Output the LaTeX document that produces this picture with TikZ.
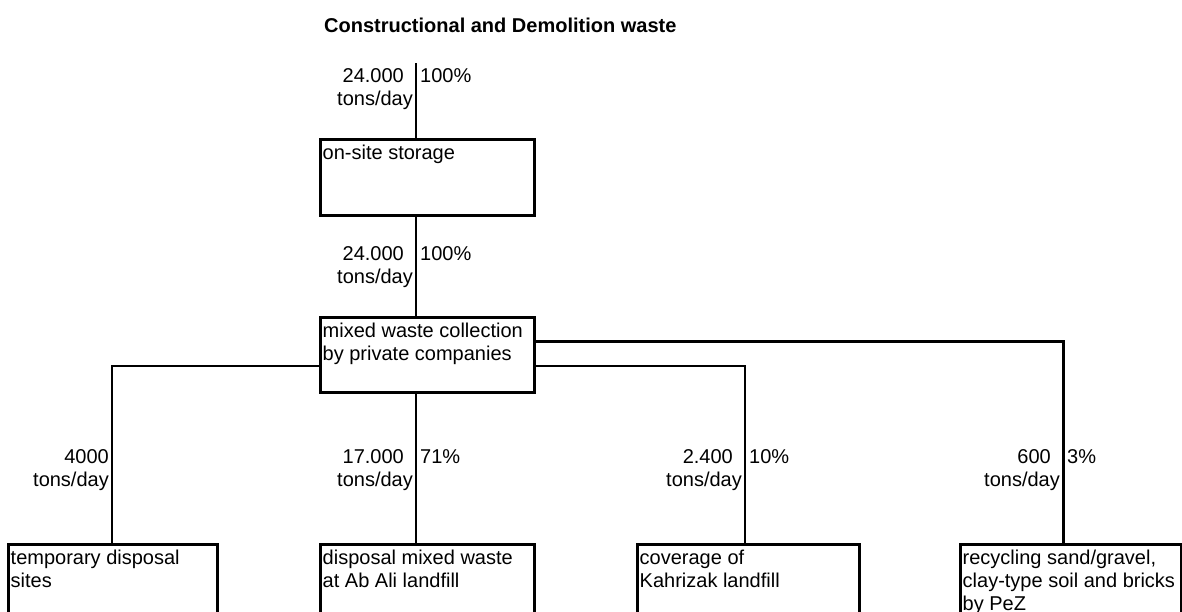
\documentclass[tikz,border=0pt]{standalone}
\usepackage{fontspec}
\setmainfont{Liberation Sans}
\begin{document}
\begin{tikzpicture}[x=1pt,y=-1pt,
  every node/.style={font=\fontsize{20}{23}\selectfont},
  box/.style={draw, line width=2.8pt, anchor=north west, inner sep=0pt},
  boxtext/.style={anchor=north west, inner sep=0pt, align=left},
  wire/.style={line width=2.3pt},
  qty/.style={anchor=north east, inner sep=0pt, align=right},
  pct/.style={anchor=north west, inner sep=0pt},
]
% page frame
\clip (0,0) rectangle (1182,611);
\fill[white] (0,0) rectangle (1182,611);

% heading
\node[anchor=base west, inner sep=0pt, font=\bfseries\fontsize{20}{23}\selectfont] (title) at (324,32) {Constructional and Demolition waste};

% process boxes
\node[box, minimum width=214pt, minimum height=76pt] (store) at (319,138) {};
\node[box, minimum width=214pt, minimum height=75pt] (mixed) at (319,316) {};
\node[box, minimum width=209pt, minimum height=120pt] (temp) at (7,543) {};
\node[box, minimum width=214pt, minimum height=120pt] (abali) at (319,543) {};
\node[box, minimum width=222pt, minimum height=120pt] (kahr) at (636,543) {};
\node[box, minimum width=221pt, minimum height=120pt] (recyc) at (959,543) {};

% box captions
\node[boxtext] (storeT) at ([xshift=3.5pt,yshift=-7pt]store.north west) {on-site storage};
\node[boxtext] (mixedT) at ([xshift=3.5pt,yshift=-7pt]mixed.north west) {mixed waste collection\\by private companies};
\node[boxtext] (tempT) at ([xshift=3.5pt,yshift=-7pt]temp.north west) {temporary disposal\\sites};
\node[boxtext] (abaliT) at ([xshift=3.5pt,yshift=-7pt]abali.north west) {disposal mixed waste\\at Ab Ali landfill};
\node[boxtext] (kahrT) at ([xshift=3.5pt,yshift=-7pt]kahr.north west) {coverage of\\Kahrizak landfill};
\node[boxtext] (recycT) at ([xshift=3.5pt,yshift=-7pt]recyc.north west) {recycling sand/gravel,\\clay-type soil and bricks\\by PeZ};

% flow lines
\coordinate (src) at (416,63);
\coordinate (jl) at (112,366);
\coordinate (jk) at (745,366);
\coordinate (jr) at (1063,341);
\draw[wire] (src) -- (src |- store.north);
\draw[wire] (store.south -| src) -- (mixed.north -| src);
\draw[wire] (mixed.south -| src) -- (abali.north -| src);
\draw[wire] (mixed.west |- jl) -- (jl) -- (jl |- temp.north);
\draw[wire] (mixed.east |- jk) -- (jk) -- (jk |- kahr.north);
\draw[wire, line width=3pt] (mixed.east |- jr) -- (jr) -- (jr |- recyc.north);

% quantities
\node[qty] (q1) at (413,68) {24.000\kern9pt\\tons/day};
\node[pct] (p1) at (420,68) {100\%};
\node[qty] (q2) at (413,246) {24.000\kern9pt\\tons/day};
\node[pct] (p2) at (420,246) {100\%};
\node[qty] (q3) at (109,449) {4000\\tons/day};
\node[qty] (q4) at (413,449) {17.000\kern9pt\\tons/day};
\node[pct] (p4) at (420,449) {71\%};
\node[qty] (q5) at (742,449) {2.400\kern9pt\\tons/day};
\node[pct] (p5) at (749,449) {10\%};
\node[qty] (q6) at (1060,449) {600\kern9pt\\tons/day};
\node[pct] (p6) at (1067,449) {3\%};
\end{tikzpicture}
\end{document}
